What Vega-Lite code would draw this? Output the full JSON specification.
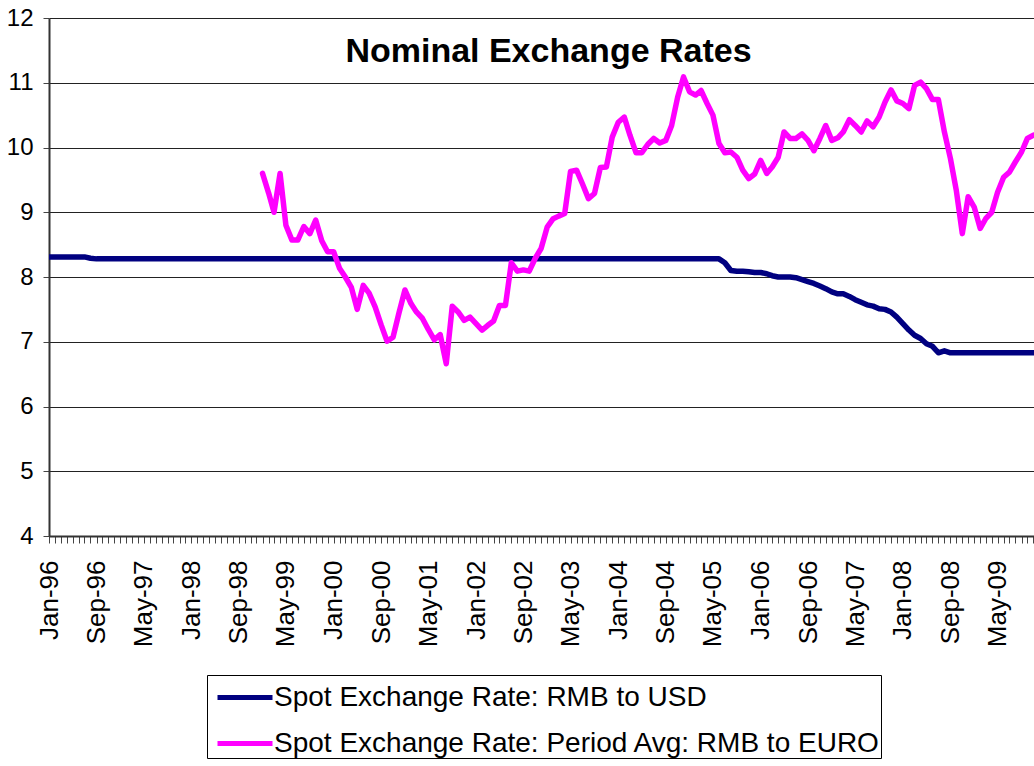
{
  "$schema": "https://vega.github.io/schema/vega-lite/v6.json",
  "width": 985,
  "height": 518,
  "autosize": {"type": "none"},
  "padding": {"left": 49, "top": 18, "right": 0, "bottom": 230},
  "background": "white",
  "config": {"view": {"stroke": null}, "font": "Liberation Sans"},
  "title": {"text": "Nominal Exchange Rates", "fontSize": 34, "fontWeight": "bold", "font": "Liberation Sans", "color": "black", "anchor": "middle", "frame": "group", "baseline": "alphabetic", "offset": -44, "dx": 7, "dy": 46},
  "data": {"values": [
    {"date":"1996-01-01","usd":8.31},{"date":"1996-02-01","usd":8.31},{"date":"1996-03-01","usd":8.31},{"date":"1996-04-01","usd":8.31},{"date":"1996-05-01","usd":8.31},{"date":"1996-06-01","usd":8.31},{"date":"1996-07-01","usd":8.31},{"date":"1996-08-01","usd":8.29},{"date":"1996-09-01","usd":8.28},{"date":"1996-10-01","usd":8.28},{"date":"1996-11-01","usd":8.28},{"date":"1996-12-01","usd":8.28},
    {"date":"1997-01-01","usd":8.28},{"date":"1997-02-01","usd":8.28},{"date":"1997-03-01","usd":8.28},{"date":"1997-04-01","usd":8.28},{"date":"1997-05-01","usd":8.28},{"date":"1997-06-01","usd":8.28},{"date":"1997-07-01","usd":8.28},{"date":"1997-08-01","usd":8.28},{"date":"1997-09-01","usd":8.28},{"date":"1997-10-01","usd":8.28},{"date":"1997-11-01","usd":8.28},{"date":"1997-12-01","usd":8.28},
    {"date":"1998-01-01","usd":8.28},{"date":"1998-02-01","usd":8.28},{"date":"1998-03-01","usd":8.28},{"date":"1998-04-01","usd":8.28},{"date":"1998-05-01","usd":8.28},{"date":"1998-06-01","usd":8.28},{"date":"1998-07-01","usd":8.28},{"date":"1998-08-01","usd":8.28},{"date":"1998-09-01","usd":8.28},{"date":"1998-10-01","usd":8.28},{"date":"1998-11-01","usd":8.28},{"date":"1998-12-01","usd":8.28},
    {"date":"1999-01-01","usd":8.28,"eur":9.60},{"date":"1999-02-01","usd":8.28,"eur":9.30},{"date":"1999-03-01","usd":8.28,"eur":9.00},{"date":"1999-04-01","usd":8.28,"eur":9.60},{"date":"1999-05-01","usd":8.28,"eur":8.80},{"date":"1999-06-01","usd":8.28,"eur":8.57},{"date":"1999-07-01","usd":8.28,"eur":8.57},{"date":"1999-08-01","usd":8.28,"eur":8.78},{"date":"1999-09-01","usd":8.28,"eur":8.67},{"date":"1999-10-01","usd":8.28,"eur":8.88},{"date":"1999-11-01","usd":8.28,"eur":8.56},{"date":"1999-12-01","usd":8.28,"eur":8.39},
    {"date":"2000-01-01","usd":8.28,"eur":8.39},{"date":"2000-02-01","usd":8.28,"eur":8.13},{"date":"2000-03-01","usd":8.28,"eur":8.00},{"date":"2000-04-01","usd":8.28,"eur":7.84},{"date":"2000-05-01","usd":8.28,"eur":7.50},{"date":"2000-06-01","usd":8.28,"eur":7.87},{"date":"2000-07-01","usd":8.28,"eur":7.75},{"date":"2000-08-01","usd":8.28,"eur":7.54},{"date":"2000-09-01","usd":8.28,"eur":7.26},{"date":"2000-10-01","usd":8.28,"eur":7.01},{"date":"2000-11-01","usd":8.28,"eur":7.07},{"date":"2000-12-01","usd":8.28,"eur":7.44},
    {"date":"2001-01-01","usd":8.28,"eur":7.80},{"date":"2001-02-01","usd":8.28,"eur":7.59},{"date":"2001-03-01","usd":8.28,"eur":7.46},{"date":"2001-04-01","usd":8.28,"eur":7.36},{"date":"2001-05-01","usd":8.28,"eur":7.19},{"date":"2001-06-01","usd":8.28,"eur":7.03},{"date":"2001-07-01","usd":8.28,"eur":7.11},{"date":"2001-08-01","usd":8.28,"eur":6.66},{"date":"2001-09-01","usd":8.28,"eur":7.55},{"date":"2001-10-01","usd":8.28,"eur":7.46},{"date":"2001-11-01","usd":8.28,"eur":7.33},{"date":"2001-12-01","usd":8.28,"eur":7.38},
    {"date":"2002-01-01","usd":8.28,"eur":7.28},{"date":"2002-02-01","usd":8.28,"eur":7.18},{"date":"2002-03-01","usd":8.28,"eur":7.25},{"date":"2002-04-01","usd":8.28,"eur":7.32},{"date":"2002-05-01","usd":8.28,"eur":7.56},{"date":"2002-06-01","usd":8.28,"eur":7.56},{"date":"2002-07-01","usd":8.28,"eur":8.22},{"date":"2002-08-01","usd":8.28,"eur":8.09},{"date":"2002-09-01","usd":8.28,"eur":8.11},{"date":"2002-10-01","usd":8.28,"eur":8.09},{"date":"2002-11-01","usd":8.28,"eur":8.29},{"date":"2002-12-01","usd":8.28,"eur":8.44},
    {"date":"2003-01-01","usd":8.28,"eur":8.77},{"date":"2003-02-01","usd":8.28,"eur":8.90},{"date":"2003-03-01","usd":8.28,"eur":8.94},{"date":"2003-04-01","usd":8.28,"eur":8.98},{"date":"2003-05-01","usd":8.28,"eur":9.63},{"date":"2003-06-01","usd":8.28,"eur":9.65},{"date":"2003-07-01","usd":8.28,"eur":9.44},{"date":"2003-08-01","usd":8.28,"eur":9.21},{"date":"2003-09-01","usd":8.28,"eur":9.29},{"date":"2003-10-01","usd":8.28,"eur":9.69},{"date":"2003-11-01","usd":8.28,"eur":9.70},{"date":"2003-12-01","usd":8.28,"eur":10.16},
    {"date":"2004-01-01","usd":8.28,"eur":10.39},{"date":"2004-02-01","usd":8.28,"eur":10.47},{"date":"2004-03-01","usd":8.28,"eur":10.19},{"date":"2004-04-01","usd":8.28,"eur":9.92},{"date":"2004-05-01","usd":8.28,"eur":9.92},{"date":"2004-06-01","usd":8.28,"eur":10.05},{"date":"2004-07-01","usd":8.28,"eur":10.14},{"date":"2004-08-01","usd":8.28,"eur":10.07},{"date":"2004-09-01","usd":8.28,"eur":10.11},{"date":"2004-10-01","usd":8.28,"eur":10.34},{"date":"2004-11-01","usd":8.28,"eur":10.78},{"date":"2004-12-01","usd":8.28,"eur":11.09},
    {"date":"2005-01-01","usd":8.28,"eur":10.86},{"date":"2005-02-01","usd":8.28,"eur":10.81},{"date":"2005-03-01","usd":8.28,"eur":10.88},{"date":"2005-04-01","usd":8.28,"eur":10.68},{"date":"2005-05-01","usd":8.28,"eur":10.50},{"date":"2005-06-01","usd":8.28,"eur":10.06},{"date":"2005-07-01","usd":8.22,"eur":9.92},{"date":"2005-08-01","usd":8.10,"eur":9.93},{"date":"2005-09-01","usd":8.09,"eur":9.85},{"date":"2005-10-01","usd":8.09,"eur":9.65},{"date":"2005-11-01","usd":8.08,"eur":9.52},{"date":"2005-12-01","usd":8.07,"eur":9.59},
    {"date":"2006-01-01","usd":8.07,"eur":9.80},{"date":"2006-02-01","usd":8.05,"eur":9.60},{"date":"2006-03-01","usd":8.02,"eur":9.70},{"date":"2006-04-01","usd":8.00,"eur":9.85},{"date":"2006-05-01","usd":8.00,"eur":10.24},{"date":"2006-06-01","usd":8.00,"eur":10.14},{"date":"2006-07-01","usd":7.99,"eur":10.14},{"date":"2006-08-01","usd":7.96,"eur":10.21},{"date":"2006-09-01","usd":7.93,"eur":10.11},{"date":"2006-10-01","usd":7.90,"eur":9.95},{"date":"2006-11-01","usd":7.86,"eur":10.14},{"date":"2006-12-01","usd":7.82,"eur":10.34},
    {"date":"2007-01-01","usd":7.77,"eur":10.11},{"date":"2007-02-01","usd":7.74,"eur":10.15},{"date":"2007-03-01","usd":7.74,"eur":10.24},{"date":"2007-04-01","usd":7.70,"eur":10.43},{"date":"2007-05-01","usd":7.65,"eur":10.34},{"date":"2007-06-01","usd":7.61,"eur":10.24},{"date":"2007-07-01","usd":7.57,"eur":10.41},{"date":"2007-08-01","usd":7.55,"eur":10.32},{"date":"2007-09-01","usd":7.51,"eur":10.47},{"date":"2007-10-01","usd":7.50,"eur":10.70},{"date":"2007-11-01","usd":7.46,"eur":10.89},{"date":"2007-12-01","usd":7.38,"eur":10.72},
    {"date":"2008-01-01","usd":7.28,"eur":10.68},{"date":"2008-02-01","usd":7.18,"eur":10.60},{"date":"2008-03-01","usd":7.10,"eur":10.96},{"date":"2008-04-01","usd":7.05,"eur":11.01},{"date":"2008-05-01","usd":6.97,"eur":10.91},{"date":"2008-06-01","usd":6.93,"eur":10.74},{"date":"2008-07-01","usd":6.83,"eur":10.74},{"date":"2008-08-01","usd":6.86,"eur":10.24},{"date":"2008-09-01","usd":6.83,"eur":9.83},{"date":"2008-10-01","usd":6.83,"eur":9.34},{"date":"2008-11-01","usd":6.83,"eur":8.67},{"date":"2008-12-01","usd":6.83,"eur":9.24},
    {"date":"2009-01-01","usd":6.83,"eur":9.08},{"date":"2009-02-01","usd":6.83,"eur":8.75},{"date":"2009-03-01","usd":6.83,"eur":8.90},{"date":"2009-04-01","usd":6.83,"eur":9.00},{"date":"2009-05-01","usd":6.83,"eur":9.31},{"date":"2009-06-01","usd":6.83,"eur":9.54},{"date":"2009-07-01","usd":6.83,"eur":9.62},{"date":"2009-08-01","usd":6.83,"eur":9.78},{"date":"2009-09-01","usd":6.83,"eur":9.93},{"date":"2009-10-01","usd":6.83,"eur":10.14},{"date":"2009-11-01","usd":6.83,"eur":10.19}
  ]},
  "transform": [
    {"fold": ["usd", "eur"], "as": ["series", "value"]},
    {"filter": "isValid(datum.value)"}
  ],
  "mark": {"type": "line", "strokeWidth": 5.5, "strokeJoin": "round", "strokeCap": "round", "clip": true},
  "encoding": {
    "x": {
      "field": "date", "type": "temporal",
      "scale": {"type": "utc", "domain": [{"year": 1996, "month": 1, "date": 1, "utc": true}, {"year": 2009, "month": 11, "date": 4, "utc": true}]},
      "axis": {
        "title": null,
        "tickCount": {"interval": "month", "step": 1},
        "labelExpr": "((utcyear(datum.value)-1996)*12+utcmonth(datum.value))%8==0 ? utcFormat(datum.value,'%b-%y') : ''",
        "labelAngle": 270,
        "labelFontSize": 26,
        "labelColor": "black",
        "labelPadding": 17,
        "tickSize": 7,
        "tickColor": "#444444",
        "domainColor": "#333333",
        "domainWidth": 2,
        "grid": false,
        "labelOverlap": false,
        "labelBound": false,
        "labelFlush": false
      }
    },
    "y": {
      "field": "value", "type": "quantitative",
      "scale": {"domain": [4, 12], "nice": false, "zero": false},
      "axis": {
        "title": null,
        "values": [4, 5, 6, 7, 8, 9, 10, 11, 12],
        "labelFontSize": 24,
        "labelColor": "black",
        "labelPadding": 10,
        "tickSize": 6,
        "tickColor": "#444444",
        "domainColor": "#333333",
        "domainWidth": 2,
        "grid": true,
        "gridColor": "#222222",
        "gridWidth": 1
      }
    },
    "color": {
      "field": "series", "type": "nominal",
      "scale": {"domain": ["usd", "eur"], "range": ["#000080", "#FF00FF"]},
      "legend": {
        "title": null,
        "orient": "none",
        "legendX": 158,
        "legendY": 657,
        "direction": "vertical",
        "symbolType": "M-0.6,0H2.15",
        "symbolSize": 1600,
        "symbolStrokeWidth": 5,
        "labelFontSize": 28,
        "labelColor": "black",
        "labelLimit": 800,
        "labelOffset": 22,
        "rowPadding": 9,
        "padding": 0,
        "strokeColor": "black",
        "fillColor": "white",
        "labelExpr": "datum.value == 'usd' ? 'Spot Exchange Rate: RMB to USD' : 'Spot Exchange Rate: Period Avg: RMB to EURO'"
      }
    }
  }
}
